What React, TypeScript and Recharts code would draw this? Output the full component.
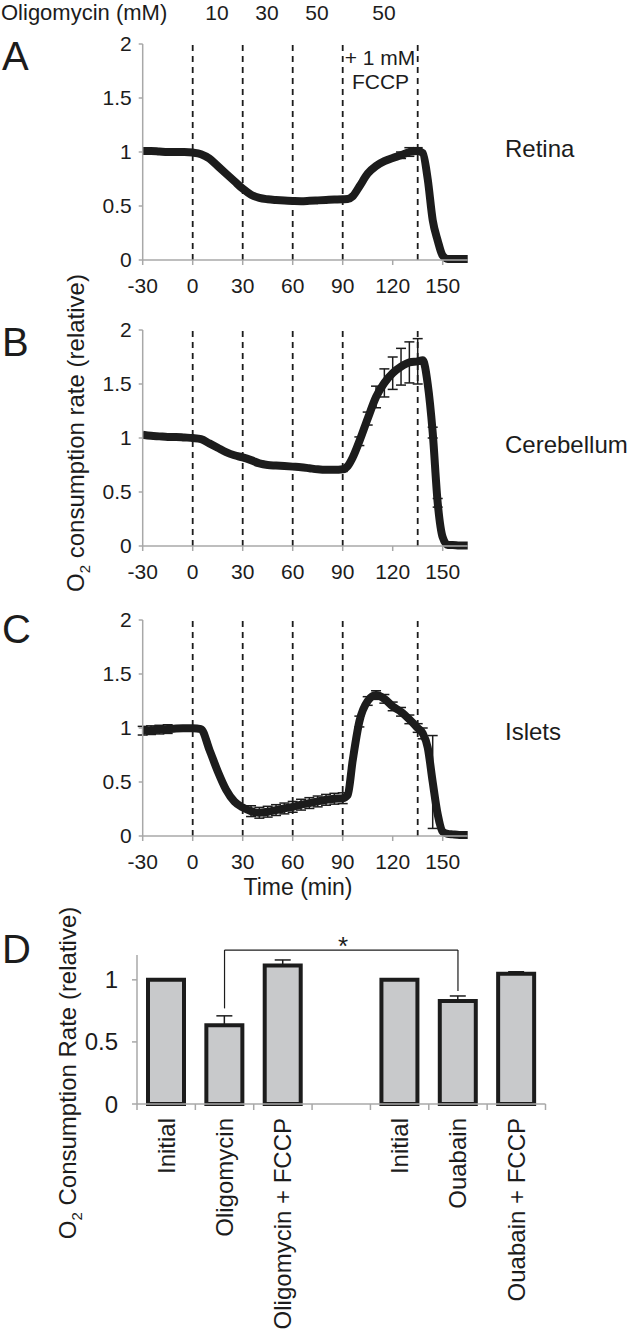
import React from "react";
import {
  LineChart, Line, XAxis, YAxis, ReferenceLine, ErrorBar,
  BarChart, Bar,
} from "recharts";

const FONT = "'Liberation Sans', Arial, Helvetica, sans-serif";
const INK = "#1c1c1c";
const AXIS_GRAY = "#a8a8a8";
const BAR_FILL = "#c8c9cb";

// time grid (min) shared by the three traces
const TIME = [
  -30, -25, -20, -15, -10, -5, 0, 5, 10, 15, 20, 25, 30, 35, 40, 45, 50, 55, 60, 65,
  70, 75, 80, 85, 90, 93, 96, 100, 105, 110, 115, 120, 125, 130, 135, 138, 141, 144,
  147, 150, 153, 156, 160, 165,
];

const RETINA = [
  1.01, 1.01, 1.005, 1.0, 1.0, 1.0, 0.995, 0.98, 0.94, 0.87, 0.8, 0.73, 0.66, 0.605, 0.575, 0.562, 0.555, 0.55, 0.547, 0.545,
  0.548, 0.552, 0.556, 0.56, 0.563, 0.565, 0.59, 0.68, 0.8, 0.87, 0.915, 0.945, 0.97, 1.0, 1.01, 0.99, 0.75, 0.37,
  0.18, 0.04, 0.01, 0.01, 0.01, 0.01,
];
const RETINA_ERR = [
  0, 0, 0, 0, 0, 0, 0, 0, 0, 0, 0, 0, 0, 0, 0, 0, 0, 0, 0, 0,
  0, 0, 0, 0, 0, 0, 0, 0, 0, 0, 0, 0, 0.03, 0.04, 0.03, 0, 0, 0,
  0, 0, 0, 0, 0, 0,
];

const CEREBELLUM = [
  1.03, 1.02, 1.015, 1.01, 1.01, 1.005, 1.0, 0.99, 0.95, 0.91, 0.87, 0.84, 0.82, 0.795, 0.765, 0.75, 0.745, 0.74, 0.735, 0.73,
  0.72, 0.71, 0.705, 0.705, 0.71, 0.74, 0.82, 0.97, 1.18, 1.38, 1.51, 1.6, 1.66, 1.7, 1.71, 1.72, 1.5, 1.05,
  0.4, 0.08, 0.01, 0.01, 0.005, 0.005,
];
const CEREBELLUM_ERR = [
  0, 0, 0, 0, 0, 0, 0, 0, 0, 0, 0, 0, 0, 0, 0.02, 0.02, 0.02, 0.02, 0.02, 0.02,
  0.02, 0.02, 0.02, 0.02, 0.02, 0, 0, 0.04, 0.06, 0.1, 0.13, 0.15, 0.17, 0.19, 0.21, 0, 0, 0.05,
  0.04, 0, 0, 0, 0, 0,
];

const ISLETS = [
  0.975, 0.98, 0.985, 0.99, 0.995, 0.997, 0.998, 0.99, 0.8, 0.6, 0.43, 0.32, 0.265, 0.23, 0.215, 0.225, 0.24, 0.255, 0.27, 0.29,
  0.305, 0.32, 0.335, 0.345, 0.35, 0.38, 0.7, 1.06, 1.25, 1.305, 1.27, 1.2, 1.15, 1.08, 1.0, 0.95, 0.82, 0.5,
  0.2, 0.04, 0.02, 0.015, 0.01, 0.01,
];
const ISLETS_ERR = [
  0.04, 0.04, 0.04, 0.04, 0.02, 0.02, 0, 0, 0, 0, 0, 0, 0, 0.05, 0.05, 0.05, 0.05, 0.05, 0.05, 0.05,
  0.05, 0.05, 0.05, 0.05, 0.05, 0, 0, 0.05, 0.04, 0.04, 0.04, 0.04, 0.04, 0.04, 0.04, 0.05, 0, 0.43,
  0, 0, 0, 0, 0, 0,
];

const TIME_TICKS = [-30, 0, 30, 60, 90, 120, 150];
const RATE_TICKS = [0, 0.5, 1, 1.5, 2];
const ADDITIONS = [0, 30, 60, 90, 135];
const DOSES = ["10", "30", "50", "50"];

// panel D
const BAR_KEYS = ["init1", "oligo", "oligoFccp", "gap", "init2", "ouab", "ouabFccp"];
const BAR_LABELS = ["Initial", "Oligomycin", "Oligomycin + FCCP", "", "Initial", "Ouabain", "Ouabain + FCCP"];
const BAR_VALUES = [1.0, 0.635, 1.115, null, 1.0, 0.83, 1.05];
const BAR_ERR_UP = [0, 0.075, 0.045, null, 0, 0.04, 0.015];
const BAR_TICKS = [0, 0.5, 1];
const BRACKET = { from: "oligo", to: "ouab", fromY: 0.77, toY: 0.91, top: 1.24 };

const BAR_PLOT_W = 408.5;

function TracePanel({ top, values, errors }: { top: number; values: number[]; errors: number[] }) {
  const rows = TIME.map((t, i) => ({ t, v: values[i], e: errors[i] }));
  const tick = { fontSize: 21, fill: INK, fontFamily: FONT };
  return (
    <div style={{ position: "absolute", left: 0, top }}>
      <LineChart width={480} height={280} data={rows} margin={{ top: 24, right: 12.3, bottom: 0, left: 0 }}>
        <XAxis
          dataKey="t" type="number" domain={[-30, 165]} ticks={TIME_TICKS} interval={0} height={40}
          axisLine={{ stroke: AXIS_GRAY, strokeWidth: 1.5 }} tickLine={{ stroke: AXIS_GRAY, strokeWidth: 1.5 }}
          tickSize={5} tickMargin={13} tick={tick}
        />
        <YAxis
          type="number" domain={[0, 2]} ticks={RATE_TICKS} interval={0} width={142.7}
          axisLine={{ stroke: AXIS_GRAY, strokeWidth: 1.5 }} tickLine={{ stroke: AXIS_GRAY, strokeWidth: 1.5 }}
          tickSize={4} tickMargin={7} tick={tick}
        />
        {ADDITIONS.map((x) => (
          <ReferenceLine key={x} x={x} stroke={INK} strokeWidth={1.8} strokeDasharray="6 5" />
        ))}
        <Line dataKey="v" type="monotone" stroke={INK} strokeWidth={8} dot={false} isAnimationActive={false}>
          <ErrorBar dataKey="e" direction="y" width={5} stroke={INK} strokeWidth={1.5} />
        </Line>
      </LineChart>
    </div>
  );
}

function CategoryTick(props: any) {
  const { x, y, payload } = props;
  const i = BAR_KEYS.indexOf(payload.value);
  const band = BAR_PLOT_W / BAR_KEYS.length;
  const left = x - band / 2;
  return (
    <g>
      <line x1={left} y1={y} x2={left} y2={y + 6} stroke={AXIS_GRAY} strokeWidth={1.5} />
      {i === BAR_KEYS.length - 1 && (
        <line x1={x + band / 2} y1={y} x2={x + band / 2} y2={y + 6} stroke={AXIS_GRAY} strokeWidth={1.5} />
      )}
      <text
        x={x} y={y + 14} dy="0.35em" textAnchor="end" transform={`rotate(-90, ${x}, ${y + 14})`}
        fontSize={24} fill={INK} fontFamily={FONT}
      >
        {BAR_LABELS[i]}
      </text>
    </g>
  );
}

function BarPanel() {
  const rows = BAR_KEYS.map((k, i) => ({
    k,
    v: BAR_VALUES[i],
    err: BAR_ERR_UP[i] == null ? null : [0, BAR_ERR_UP[i]],
  }));
  return (
    <div style={{ position: "absolute", left: 0, top: 935 }}>
      <BarChart width={560} height={400} data={rows} margin={{ top: 20, right: 14.5, bottom: 0, left: 0 }}>
        <XAxis
          dataKey="k" height={231} interval={0} tickSize={0} tickMargin={0}
          axisLine={{ stroke: AXIS_GRAY, strokeWidth: 1.5 }} tickLine={false} tick={<CategoryTick />}
        />
        <YAxis
          type="number" domain={[0, 1.2]} ticks={BAR_TICKS} interval={0} width={137}
          axisLine={{ stroke: AXIS_GRAY, strokeWidth: 1.5 }} tickLine={{ stroke: AXIS_GRAY, strokeWidth: 1.5 }}
          tickSize={5} tickMargin={14} tick={{ fontSize: 24, fill: INK, fontFamily: FONT }}
        />
        <Bar dataKey="v" barSize={36} fill={BAR_FILL} stroke={INK} strokeWidth={4} isAnimationActive={false}>
          <ErrorBar dataKey="err" direction="y" width={8} stroke={INK} strokeWidth={1.5} />
        </Bar>
        <ReferenceLine
          segment={[{ x: BRACKET.from, y: BRACKET.fromY }, { x: BRACKET.from, y: BRACKET.top }]}
          stroke={INK} strokeWidth={1.2} ifOverflow="visible"
        />
        <ReferenceLine
          segment={[{ x: BRACKET.from, y: BRACKET.top }, { x: BRACKET.to, y: BRACKET.top }]}
          stroke={INK} strokeWidth={1.2} ifOverflow="visible"
        />
        <ReferenceLine
          segment={[{ x: BRACKET.to, y: BRACKET.top }, { x: BRACKET.to, y: BRACKET.toY }]}
          stroke={INK} strokeWidth={1.2} ifOverflow="visible"
        />
      </BarChart>
    </div>
  );
}

export default function App() {
  const doseX = [217, 267, 317, 384];
  return (
    <div style={{ position: "absolute", left: 0, top: 0, width: 633, height: 1333, background: "#fff", fontFamily: FONT }}>
      <TracePanel top={20} values={RETINA} errors={RETINA_ERR} />
      <TracePanel top={306} values={CEREBELLUM} errors={CEREBELLUM_ERR} />
      <TracePanel top={596} values={ISLETS} errors={ISLETS_ERR} />
      <BarPanel />
      <svg width={633} height={1333} style={{ position: "absolute", left: 0, top: 0, pointerEvents: "none" }}
        fontFamily={FONT} fill={INK}>
        <text x={1} y={20} fontSize={22}>Oligomycin (mM)</text>
        {DOSES.map((d, i) => (
          <text key={i} x={doseX[i]} y={20} fontSize={21} textAnchor="middle">{d}</text>
        ))}
        <text x={2} y={70} fontSize={40}>A</text>
        <text x={2} y={356} fontSize={40}>B</text>
        <text x={2} y={643} fontSize={40}>C</text>
        <text x={2} y={963} fontSize={40}>D</text>
        <text x={380} y={65} fontSize={21} textAnchor="middle">+ 1 mM</text>
        <text x={380.5} y={89} fontSize={21} textAnchor="middle">FCCP</text>
        <text x={505} y={157} fontSize={24}>Retina</text>
        <text x={505} y={453} fontSize={24}>Cerebellum</text>
        <text x={505} y={740} fontSize={24}>Islets</text>
        <text x={298} y={895} fontSize={23} textAnchor="middle">Time (min)</text>
        <text x={343} y={955} fontSize={26} textAnchor="middle">*</text>
        <text x={84} y={433} fontSize={24} textAnchor="middle" transform="rotate(-90, 84, 433)">
          O<tspan fontSize={15} dy={6}>2</tspan><tspan dy={-6}> consumption rate (relative)</tspan>
        </text>
        <text x={76} y={1073} fontSize={24} textAnchor="middle" transform="rotate(-90, 76, 1073)">
          O<tspan fontSize={15} dy={6}>2</tspan><tspan dy={-6}> Consumption Rate (relative)</tspan>
        </text>
      </svg>
    </div>
  );
}
